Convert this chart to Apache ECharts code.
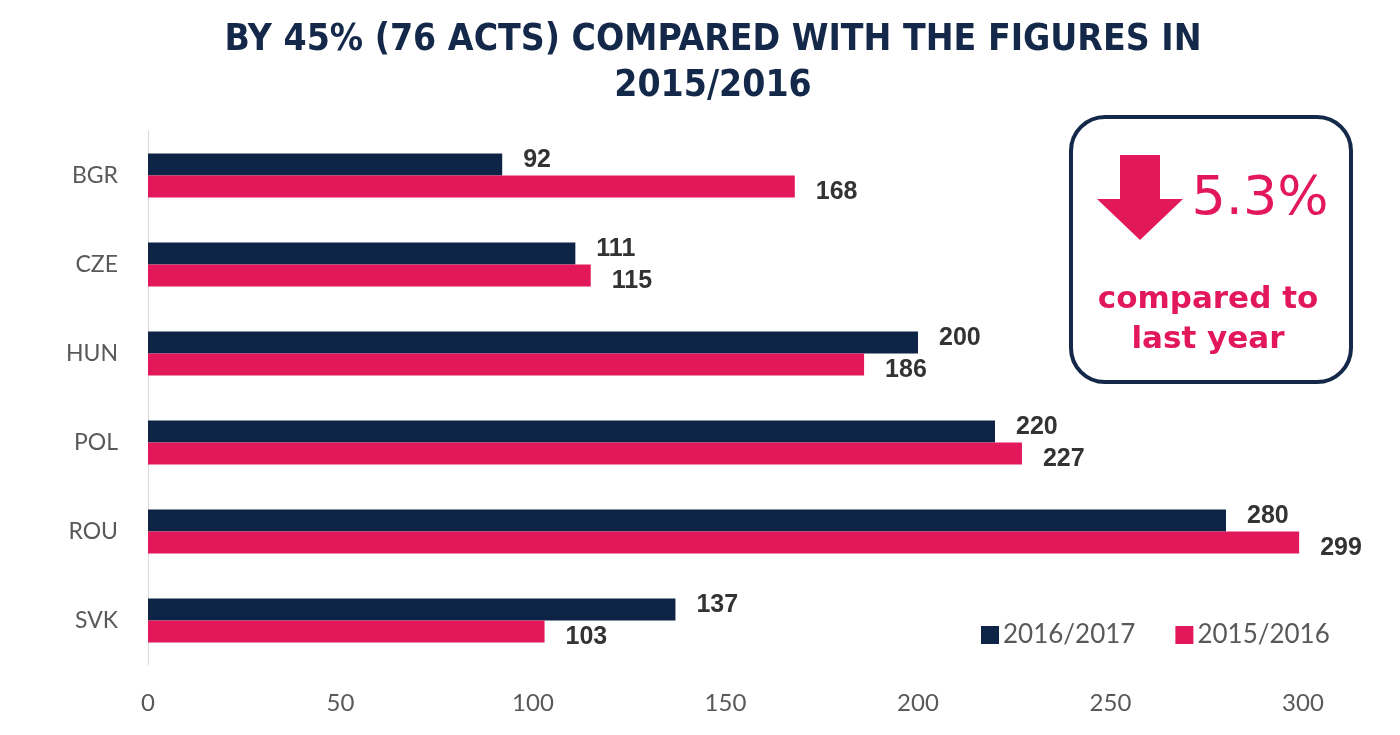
<!DOCTYPE html>
<html><head><meta charset="utf-8">
<script src="https://cdn.jsdelivr.net/npm/echarts@6/dist/echarts.min.js"></script>
<style>html,body{margin:0;padding:0;background:#fff}#c{width:1400px;height:735px}</style>
</head><body><div id="c"></div>
<script>
const categories = ['BGR','CZE','HUN','POL','ROU','SVK'];
const seriesNames = ['2016/2017','2015/2016'];
const values2016_2017 = [92,111,200,220,280,137];
const values2015_2016 = [168,115,186,227,299,103];
const xTicks = [0,50,100,150,200,250,300];
const titleLines = ['BY 45% (76 ACTS) COMPARED WITH THE FIGURES IN','2015/2016'];
const calloutValue = '5.3%';
const calloutText = 'compared to\nlast year';

const navy = '#0e2447', pink = '#e2185a';
const chart = echarts.init(document.getElementById('c'));
chart.setOption({
  backgroundColor:'#fff',
  animation:false,
  title:{
    text: titleLines.join('\n'), left:708, textAlign:'center', top:12,
    textStyle:{fontFamily:'"DejaVu Sans Condensed","DejaVu Sans",sans-serif', fontWeight:'bold', fontSize:37, color:'#14284a', lineHeight:46}
  },
  legend:{
    data:seriesNames, left:976, top:617, itemWidth:18, itemHeight:18, itemGap:40,
    icon:'rect', textStyle:{fontSize:26, color:'#595959', fontFamily:'Lato, sans-serif', padding:[0,0,0,-1]}
  },
  grid:{left:148, right:97, top:131, bottom:70},
  xAxis:{
    type:'value', min:xTicks[0], max:xTicks[xTicks.length-1], interval:50,
    axisLine:{show:false}, axisTick:{show:false}, splitLine:{show:false},
    axisLabel:{fontSize:24, color:'#595959', margin:26, fontFamily:'Lato, sans-serif'}
  },
  yAxis:{
    type:'category', data:categories, inverse:true,
    axisLine:{show:true, lineStyle:{color:'#d9d9d9', width:1}}, axisTick:{show:false},
    axisLabel:{fontSize:23, color:'#595959', margin:30, fontFamily:'Lato, sans-serif'}
  },
  series:[
    {name:seriesNames[0], type:'bar', data:values2016_2017, barWidth:22, barGap:'0%',
     itemStyle:{color:navy},
     label:{show:true, position:'right', distance:21, offset:[0,-4], fontSize:25, fontWeight:'bold', color:'#333', fontFamily:'"Liberation Sans", sans-serif'}},
    {name:seriesNames[1], type:'bar', data:values2015_2016, barWidth:22, barGap:'0%',
     itemStyle:{color:pink},
     label:{show:true, position:'right', distance:21, offset:[0,6], fontSize:25, fontWeight:'bold', color:'#333', fontFamily:'"Liberation Sans", sans-serif'}}
  ],
  graphic:[
    {type:'rect', shape:{x:1071, y:117, width:280, height:265, r:34}, style:{fill:'#fff', stroke:'#14284a', lineWidth:4}},
    {type:'polygon', shape:{points:[[1120,155],[1160,155],[1160,199],[1183,199],[1140,240],[1097,199],[1120,199]]}, style:{fill:pink}},
    {type:'text', x:1260, y:200, style:{text:calloutValue, fill:pink, fontSize:54, fontWeight:500, fontFamily:'"DejaVu Sans", sans-serif', align:'center', verticalAlign:'middle'}},
    {type:'text', x:1208, y:320, style:{text:calloutText, fill:pink, fontSize:31, fontWeight:'bold', lineHeight:40, fontFamily:'"DejaVu Sans", sans-serif', align:'center', verticalAlign:'middle'}}
  ]
});
</script></body></html>
